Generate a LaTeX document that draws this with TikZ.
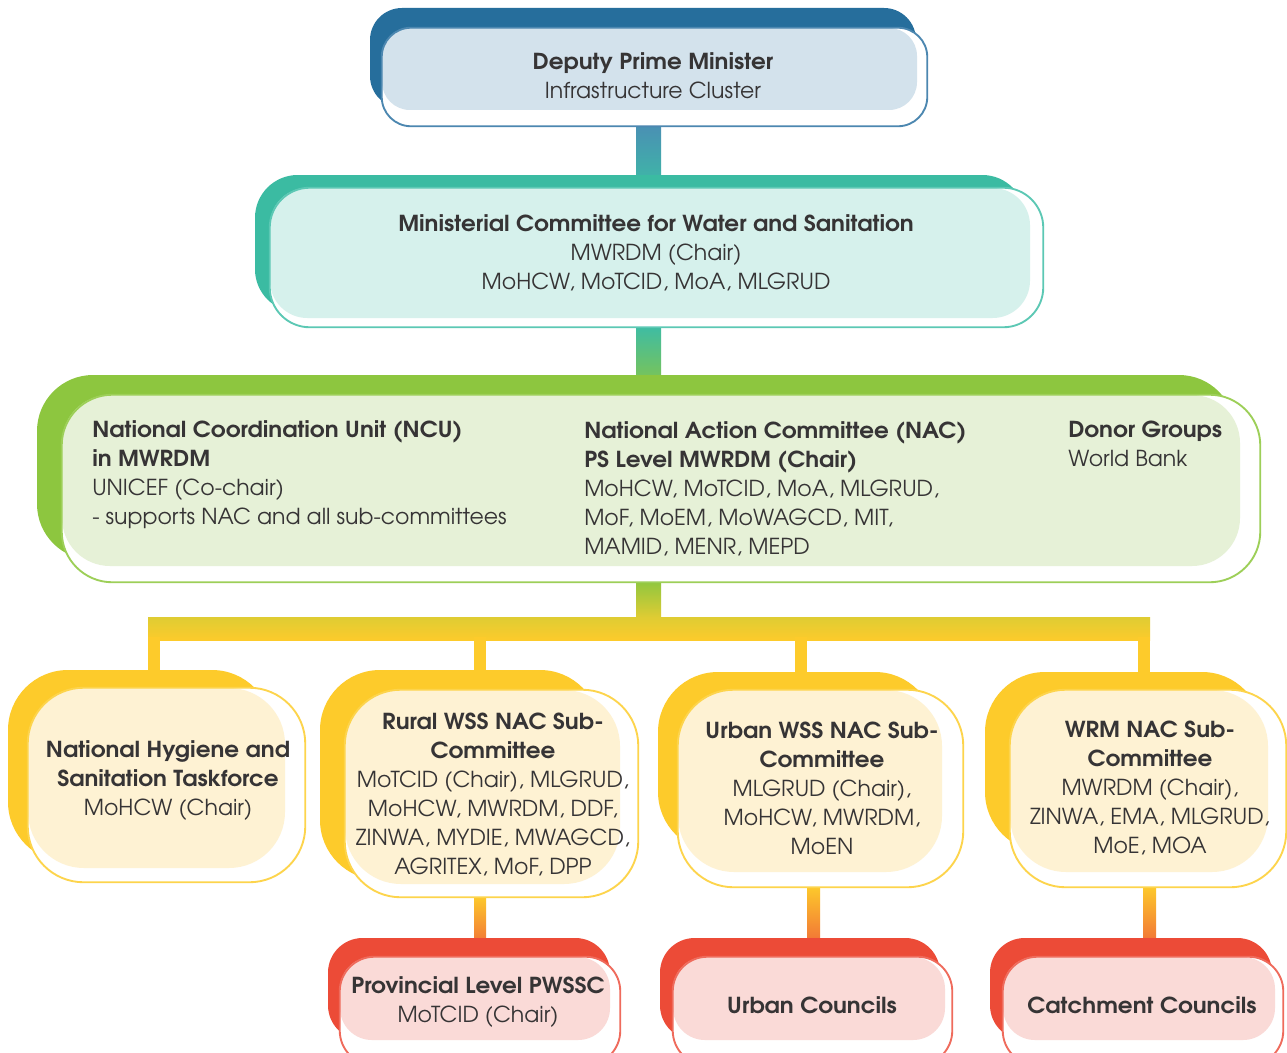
\documentclass[tikz,border=0pt]{standalone}
\usepackage{fontspec}
\setmainfont{TeX Gyre Adventor}[BoldFeatures={FakeStretch=1.05}]
\usetikzlibrary{fit,calc,backgrounds}
\definecolor{txt}{HTML}{363435}
\definecolor{bluedk}{HTML}{266E9C}
\definecolor{bluelt}{HTML}{D3E2EC}
\definecolor{blueol}{HTML}{4C87B0}
\definecolor{tealdk}{HTML}{3BBBA2}
\definecolor{teallt}{HTML}{D6F1EC}
\definecolor{tealol}{HTML}{5CC8B4}
\definecolor{grndk}{HTML}{8DC63F}
\definecolor{grnlt}{HTML}{E6F1D7}
\definecolor{grnol}{HTML}{9DCF58}
\definecolor{ylwdk}{HTML}{FDCB2B}
\definecolor{ylwlt}{HTML}{FEF2D3}
\definecolor{ylwol}{HTML}{FDD44C}
\definecolor{reddk}{HTML}{EC4B37}
\definecolor{redlt}{HTML}{FADAD7}
\definecolor{redol}{HTML}{EF6B5C}
\definecolor{olive}{HTML}{DFCC33}
\definecolor{cblue}{HTML}{4A8FB4}
\definecolor{cteal}{HTML}{3DBCA5}
\definecolor{cred}{HTML}{EE5A3A}
\tikzset{
  frame/.style={inner sep=0pt, fill=white},
  rim/.style={draw=#1, line width=1.4pt},
  lbl/.style={text=txt, align=center, inner sep=0pt, font=\fontsize{16.5}{21.75}\selectfont},
  lbll/.style={text=txt, align=left, inner sep=0pt, anchor=north west, font=\fontsize{16.5}{21.75}\selectfont},
}
\begin{document}
\begin{tikzpicture}[x=0.75pt,y=-0.75pt]
\useasboundingbox (0,0) rectangle (1287,1052);
\clip (0,0) rectangle (1287,1052);
\coordinate (spine) at (648.5,0);

% ---- DPM
\fill[bluedk, rounded corners=24pt] (370,8) rectangle (916,108);
\node[frame, rounded corners=22pt, fit={(382,28)(927,126)}] (dpm) {};
\fill[bluelt, rounded corners=21pt] (382,28) rectangle (917,110);
\draw[rim=blueol, rounded corners=22pt] (dpm.north west) rectangle (dpm.south east);
\node[lbl] (dpmt) at (653,76) {\textbf{Deputy Prime Minister}\\Infrastructure Cluster};

% ---- Ministerial
\fill[tealdk, rounded corners=32pt] (255,175) rectangle (1025,312);
\node[frame, rounded corners=30pt, fit={(270,188)(1043,327)}] (min) {};
\fill[teallt, rounded corners=28pt] (270,188) rectangle (1030,318);
\draw[rim=tealol, rounded corners=30pt] (min.north west) rectangle (min.south east);
\node[lbl] (mint) at (656,253) {\textbf{Ministerial Committee for Water and Sanitation}\\MWRDM (Chair)\\MoHCW, MoTCID, MoA, MLGRUD};

% ---- NAC
\fill[grndk, rounded corners=42pt] (37,375) rectangle (1235,560);
\node[frame, rounded corners=38pt, fit={(62,395)(1260,582)}] (nac) {};
\fill[grnlt, rounded corners=36pt] (62,395) rectangle (1240,566);
\draw[rim=grnol, rounded corners=38pt] (nac.north west) rectangle (nac.south east);
\node[lbll] (ncu) at (92,420) {\textbf{National Coordination Unit (NCU)}\\\textbf{in MWRDM}\\UNICEF (Co-chair)\\- supports NAC and all sub-committees};
\node[lbll] (nact) at (584,421) {\textbf{National Action Committee (NAC)}\\\textbf{PS Level MWRDM (Chair)}\\MoHCW, MoTCID, MoA, MLGRUD,\\MoF, MoEM, MoWAGCD, MIT,\\MAMID, MENR, MEPD};
\node[lbll] (donor) at (1068,421) {\textbf{Donor Groups}\\World Bank};

% ---- Hygiene
\fill[ylwdk, rounded corners=45pt] (8,670) rectangle (272,862);
\node[frame, rounded corners=42pt, fit={(28,688)(305,882)}] (hyg) {};
\fill[ylwlt, rounded corners=42pt] (28,688) rectangle (285,868);
\draw[rim=ylwol, rounded corners=42pt] (hyg.north west) rectangle (hyg.south east);
\node[lbl] (hygt) at (168,781) {\textbf{National Hygiene and}\\\textbf{Sanitation Taskforce}\\MoHCW (Chair)};

% ---- Rural
\fill[ylwdk, rounded corners=45pt] (320,670) rectangle (600,880);
\node[frame, rounded corners=42pt, fit={(345,690)(638,897)}] (rur) {};
\fill[ylwlt, rounded corners=42pt] (345,690) rectangle (620,884);
\draw[rim=ylwol, rounded corners=42pt] (rur.north west) rectangle (rur.south east);
\node[lbl] (rurt) at (493,794) {\textbf{Rural WSS NAC Sub-}\\\textbf{Committee}\\MoTCID (Chair), MLGRUD,\\MoHCW, MWRDM, DDF,\\ZINWA, MYDIE, MWAGCD,\\AGRITEX, MoF, DPP};

% ---- Urban
\fill[ylwdk, rounded corners=45pt] (658,672) rectangle (935,852);
\node[frame, rounded corners=42pt, fit={(678,690)(963,887)}] (urb) {};
\fill[ylwlt, rounded corners=42pt] (678,690) rectangle (942,872);
\draw[rim=ylwol, rounded corners=42pt] (urb.north west) rectangle (urb.south east);
\node[lbl] (urbt) at (822,788) {\textbf{Urban WSS NAC Sub-}\\\textbf{Committee}\\MLGRUD (Chair),\\MoHCW, MWRDM,\\MoEN};

% ---- WRM
\fill[ylwdk, rounded corners=45pt] (985,672) rectangle (1262,852);
\node[frame, rounded corners=42pt, fit={(1010,690)(1286,887)}] (wrm) {};
\fill[ylwlt, rounded corners=42pt] (1010,690) rectangle (1268,872);
\draw[rim=ylwol, rounded corners=42pt] (wrm.north west) rectangle (wrm.south east);
\node[lbl] (wrmt) at (1150,788) {\textbf{WRM NAC Sub-}\\\textbf{Committee}\\MWRDM (Chair),\\ZINWA, EMA, MLGRUD,\\MoE, MOA};

% ---- Provincial
\fill[reddk, rounded corners=26pt] (328,938) rectangle (610,1040);
\node[frame, rounded corners=26pt, fit={(340,957)(620,1065)}] (prov) {};
\fill[redlt, rounded corners=24pt] (340,957) rectangle (610,1040);
\draw[rim=redol, rounded corners=26pt] (prov.north west) rectangle (prov.south east);
\node[lbl] (provt) at (478,1002) {\textbf{Provincial Level PWSSC}\\MoTCID (Chair)};

% ---- Urban Councils
\fill[reddk, rounded corners=26pt] (660,938) rectangle (940,1040);
\node[frame, rounded corners=26pt, fit={(673,957)(952,1065)}] (uc) {};
\fill[redlt, rounded corners=24pt] (673,957) rectangle (945,1040);
\draw[rim=redol, rounded corners=26pt] (uc.north west) rectangle (uc.south east);
\node[lbl] (uct) at (812,1005) {\textbf{Urban Councils}};

% ---- Catchment Councils
\fill[reddk, rounded corners=26pt] (990,938) rectangle (1272,1040);
\node[frame, rounded corners=26pt, fit={(1003,957)(1283,1065)}] (cc) {};
\fill[redlt, rounded corners=24pt] (1003,957) rectangle (1275,1040);
\draw[rim=redol, rounded corners=26pt] (cc.north west) rectangle (cc.south east);
\node[lbl] (cct) at (1142,1005) {\textbf{Catchment Councils}};

% ---- connectors
\begin{pgfonlayer}{background}
\fill[white] (0,0) rectangle (1287,1052);
\shade[top color=cblue, bottom color=cteal] ($(dpm.south -| spine)+(-12.5,-2)$) rectangle ($(min.north -| spine)+(12.5,2)$);
\shade[top color=cteal, bottom color=grndk] ($(min.south -| spine)+(-12.5,-2)$) rectangle ($(nac.north -| spine)+(12.5,2)$);
\coordinate (bus) at ($(nac.south -| spine)+(0,35)$);
\shade[top color=grndk, bottom color=olive] ($(nac.south -| spine)+(-12.5,-2)$) rectangle ($(bus)+(12.5,0)$);
\shade[top color=olive, bottom color=ylwdk] ($(bus)+(-500.5,0)$) rectangle ($(bus)+(501.5,23)$);
\foreach \x in {154,480,801,1144}{
  \fill[ylwdk] ($(bus)+(\x-6-648.5,20)$) rectangle ($(bus)+(\x+6-648.5,60)$);
}
\shade[top color=ylwdk, bottom color=cred] ($(rur.south)+(-5.5,-2)$) rectangle ($(prov.north)+(-6,2)$);
\shade[top color=ylwdk, bottom color=cred] ($(urb.south)+(-0.5,-2)$) rectangle ($(uc.north)+(-5.5,2)$);
\shade[top color=ylwdk, bottom color=cred] ($(wrm.south)+(8,-2)$) rectangle ($(cc.north)+(0,2)$);
\end{pgfonlayer}
\end{tikzpicture}
\end{document}
